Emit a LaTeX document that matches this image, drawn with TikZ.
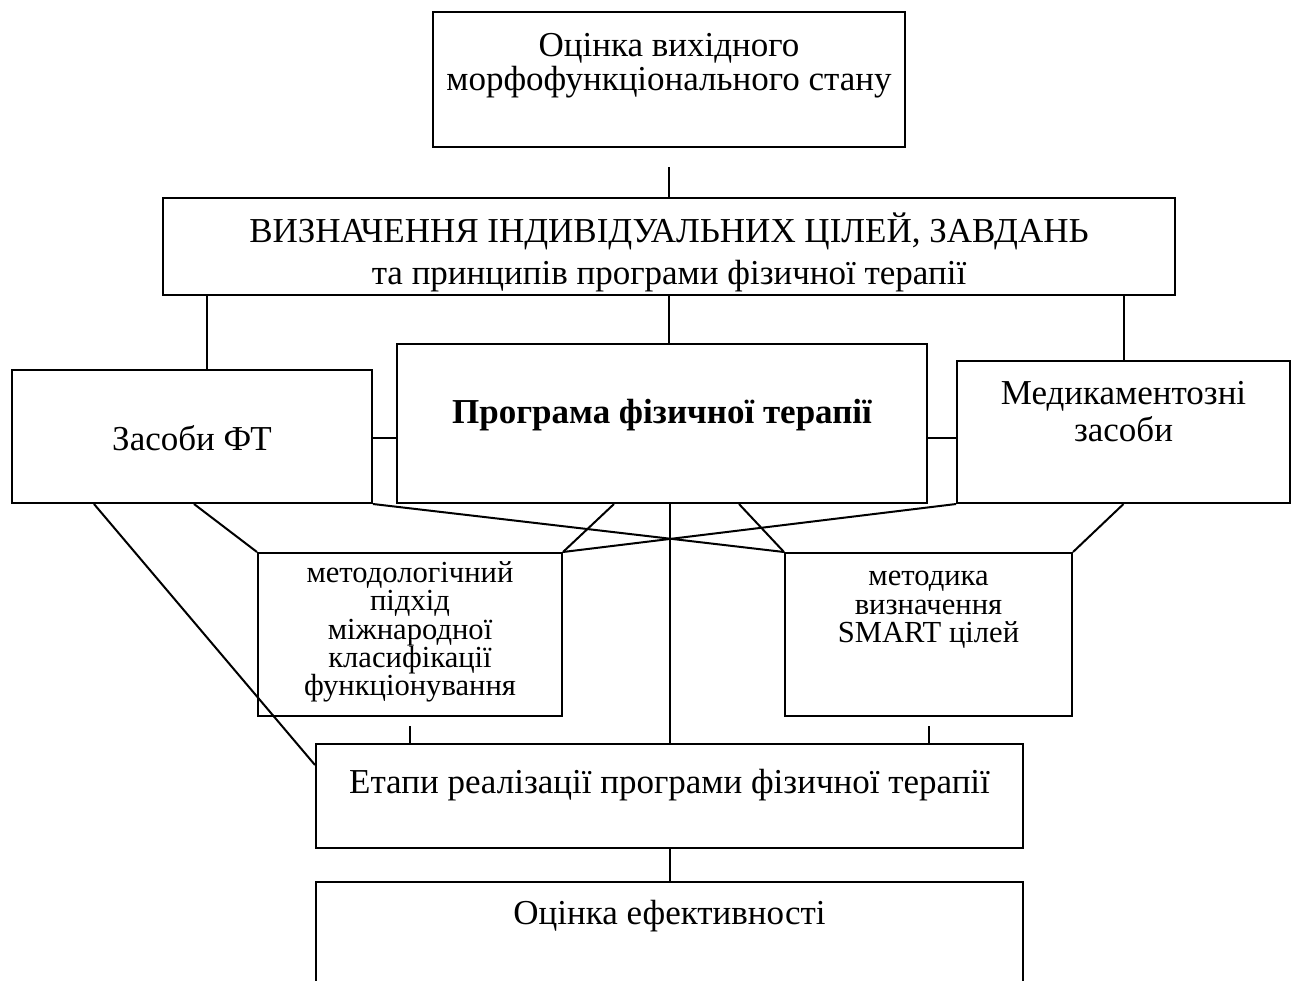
\documentclass[tikz,border=0pt]{standalone}
\usepackage{fontspec}
\setmainfont{Liberation Serif}
\usetikzlibrary{calc}

\begin{document}
\begin{tikzpicture}[x=0.5pt, y=-0.5pt, line width=1pt,
    box/.style={draw, rectangle, inner sep=0pt},
    txt/.style={align=center, inner sep=0pt, font=\fontsize{17.5}{21}\selectfont},
    small/.style={align=center, inner sep=0pt, font=\fontsize{15.3}{14.2}\selectfont}]
    \useasboundingbox (0,0) rectangle (1299,980);

    % boxes
    \node[box, minimum width=236pt, minimum height=67.5pt] (top) at (669,79.5) {};
    \node[box, minimum width=506pt, minimum height=48.5pt] (goals) at (669,246.5) {};
    \node[box, minimum width=180pt, minimum height=66.5pt] (means) at (192,436.5) {};
    \node[box, minimum width=265pt, minimum height=79.5pt] (prog) at (662,423.5) {};
    \node[box, minimum width=166.5pt, minimum height=71pt] (drugs) at (1123.5,432) {};
    \node[box, minimum width=152pt, minimum height=81.5pt] (icf) at (410,634.5) {};
    \node[box, minimum width=143.5pt, minimum height=81.5pt] (smart) at (928.5,634.5) {};
    \node[box, minimum width=353.5pt, minimum height=52pt] (stages) at (669.5,796) {};
    \node[box, minimum width=353.5pt, minimum height=54pt] (eval) at (669.5,936) {};

    % texts
    \node[txt, font=\fontsize{17.5}{17}\selectfont] (topt) at (669,66) {Оцінка вихідного\\морфофункціонального стану};
    \node[txt] (goalst) at (669,252) {ВИЗНАЧЕННЯ ІНДИВІДУАЛЬНИХ ЦІЛЕЙ, ЗАВДАНЬ\\та принципів програми фізичної терапії};
    \node[txt] (meanst) at (192,438) {Засоби ФТ};
    \node[txt, font=\bfseries\fontsize{17.5}{21}\selectfont] (progt) at (662,415) {Програма фізичної терапії};
    \node[txt, font=\fontsize{17.5}{18.5}\selectfont] (drugst) at (1123.5,411.5) {Медикаментозні\\засоби};
    \node[small] (icft) at (410,632) {методологічний\\підхід\\міжнародної\\класифікації\\функціонування};
    \node[small] (smartt) at (928.5,610) {методика\\визначення\\SMART цілей};
    \node[txt] (stagest) at (669.5,785) {Етапи реалізації програми фізичної терапії};
    \node[txt] (evalt) at (669.5,916) {Оцінка ефективності};

    % links
    \coordinate (bar) at (669,438);
    \draw (goals.north) -- ([yshift=-9.5pt]top.south);
    \draw ([xshift=7.5pt]means.north) -- ([xshift=7.5pt]means.north |- goals.south);
    \draw (goals.south) -- (goals.south |- prog.north);
    \draw (drugs.north) -- (drugs.north |- goals.south);
    \draw (means.east |- bar) -- (prog.west |- bar);
    \draw (prog.east |- bar) -- (drugs.west |- bar);

    \draw ([xshift=41.5pt]means.south west) -- ([yshift=15.5pt]stages.west);
    \draw ([xshift=91.5pt]means.south west) -- (icf.north west);
    \draw (means.south east) -- (smart.north west);
    \draw ([xshift=109pt]prog.south west) -- (icf.north east);
    \draw ([xshift=-94.5pt]prog.south east) -- (smart.north west);
    \draw (drugs.south west) -- (icf.north east);
    \draw (drugs.south) -- (smart.north east);
    \draw (stages.north) -- (stages.north |- prog.south);

    \draw ([yshift=-4.5pt]icf.south) -- (icf.south |- stages.north);
    \draw ([yshift=-4.5pt]smart.south) -- (smart.south |- stages.north);
    \draw (stages.south) -- (eval.north);
\end{tikzpicture}
\end{document}
